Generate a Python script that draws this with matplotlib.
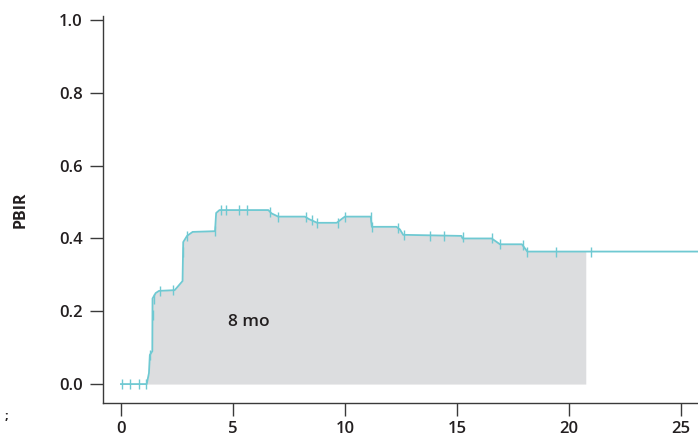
import numpy as np
import matplotlib
matplotlib.use("Agg")
import matplotlib.pyplot as plt

# curve vertices (months, PBIR)
months = [0.0, 1.15, 1.25, 1.29, 1.40, 1.41, 1.55, 1.70, 2.40, 2.75, 2.78, 2.95,
          3.20, 4.20, 4.25, 4.40, 6.58, 6.72, 7.02, 8.21, 8.40, 8.76, 9.63, 9.93,
          10.0, 11.15, 11.20, 12.30, 12.45, 12.60, 15.20, 15.25, 16.55, 16.92,
          17.90, 18.14, 25.8]
pbir = [0.0, 0.0, 0.03, 0.08, 0.09, 0.235, 0.25, 0.256, 0.258, 0.283, 0.39, 0.407,
        0.418, 0.42, 0.47, 0.478, 0.478, 0.469, 0.46, 0.46, 0.453, 0.443, 0.443, 0.457,
        0.46, 0.46, 0.432, 0.432, 0.425, 0.41, 0.407, 0.40, 0.40, 0.384,
        0.384, 0.364, 0.364]

# censored observations
cens_t = [0.05, 0.4, 0.8, 1.1, 1.29, 1.41, 1.48, 1.74, 2.34, 2.78, 2.97, 4.2,
          4.45, 4.69, 5.28, 5.61, 6.65, 7.02, 8.26, 8.51, 8.76, 9.7, 10.0, 11.15,
          11.22, 12.35, 12.65, 13.8, 14.4, 15.25, 16.58, 16.92, 17.93, 18.14,
          19.44, 21.0]
cens_y = [0.0, 0.0, 0.0, 0.0, 0.08, 0.19, 0.235, 0.256, 0.258, 0.364, 0.407, 0.42,
          0.478, 0.478, 0.478, 0.478, 0.474, 0.46, 0.458, 0.45, 0.443, 0.443, 0.46, 0.46,
          0.432, 0.43, 0.41, 0.407, 0.407, 0.403, 0.40, 0.384, 0.382, 0.364,
          0.364, 0.364]

fill_end = 20.75  # shaded area ends here
xticks = [0, 5, 10, 15, 20, 25]
yticks = [0.0, 0.2, 0.4, 0.6, 0.8, 1.0]

line_col = "#6FC9D2"
fill_col = "#DCDDDF"
txt_col = "#231F20"
plt.rcParams['font.family'] = ['Open Sans', 'DejaVu Sans']

fig = plt.figure(figsize=(6.98, 4.40), dpi=100)
ax = fig.add_axes([0.1476, 0.0841, 0.8524, 0.8786])

t = np.array(months)
y = np.array(pbir)
keep = t < fill_end
tf = np.append(t[keep], fill_end)
yf = np.append(y[keep], np.interp(fill_end, t, y))
ax.fill_between(tf, 0, yf, color=fill_col, lw=0, zorder=1)

ax.plot(t, y, color=line_col, lw=1.3, zorder=3, clip_on=False)
ax.plot(cens_t, cens_y, ls="none", marker="|", ms=7, mew=1.0,
        color=line_col, zorder=4)

ax.text(5.7, 0.17, "8 mo", ha="center", va="center", fontsize=12.5,
        fontweight="semibold", color=txt_col)

ax.set_xlim(-0.8, 25.76)
ax.set_ylim(-0.052, 1.01)
ax.set_xticks(xticks)
ax.set_yticks(yticks)
ax.set_xticklabels([str(v) for v in xticks])
ax.set_yticklabels([f"{v:.1f}" for v in yticks])
ax.tick_params(axis="both", direction="out", length=9.5, width=1.0,
               colors="#3a3a3a", labelcolor=txt_col, labelsize=12)
ax.tick_params(axis="x", pad=3.5)
ax.tick_params(axis="y", pad=5)
for lab in ax.get_xticklabels() + ax.get_yticklabels():
    lab.set_fontweight("semibold")

ax.set_ylabel("PBIR", fontsize=11.5, fontweight="bold", color=txt_col, labelpad=22)

for side in ["top", "right"]:
    ax.spines[side].set_visible(False)
for side in ["left", "bottom"]:
    ax.spines[side].set_linewidth(1.0)
    ax.spines[side].set_color("#3a3a3a")

fig.text(0.006, 0.045, ";", fontsize=9, color=txt_col, fontweight="bold")

fig.savefig("out.png", dpi=100)
